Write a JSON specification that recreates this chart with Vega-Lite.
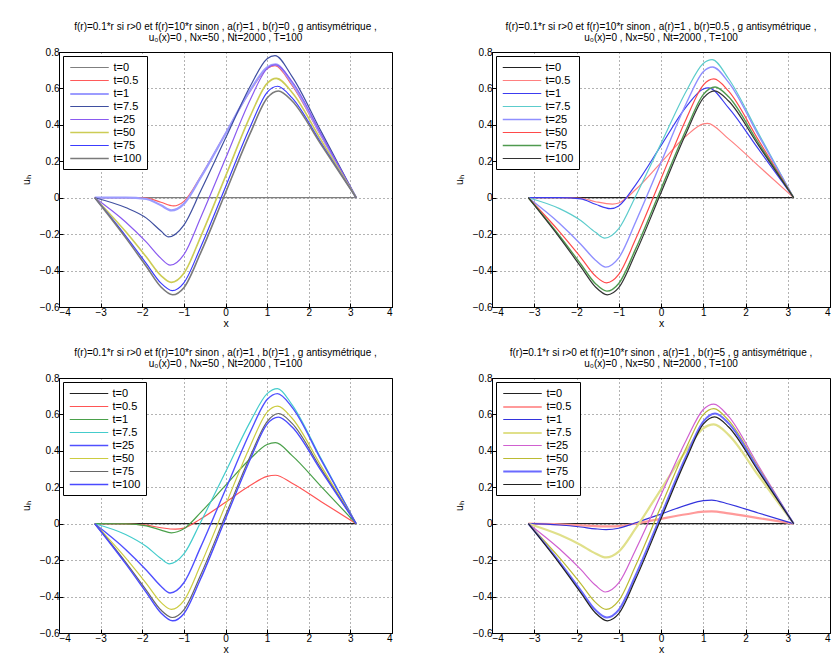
{
"$schema": "https://vega.github.io/schema/vega-lite/v6.json",
"background": "white",
"padding": {"left": 20, "top": 21, "right": 0, "bottom": 0},
"config": {
  "font": "Liberation Sans",
  "view": {"stroke": "#000000", "strokeWidth": 1},
  "axis": {"labelFontSize": 10, "labelColor": "#000000", "titleFontSize": 10.5, "titleFontWeight": "normal", "titleColor": "#000000", "domainColor": "#000000", "tickColor": "#000000", "tickSize": -4, "labelPadding": 4, "grid": true, "gridColor": "#000000", "gridDash": [1, 3], "gridOpacity": 0.6},
  "title": {"fontSize": 10, "fontWeight": "normal", "lineHeight": 11, "offset": 4, "anchor": "middle", "frame": "group", "color": "#000000"},
  "legend": {"title": null, "orient": "top-left", "offset": 4, "fillColor": "white", "strokeColor": "#000000", "padding": 5, "symbolType": "M-3.5,0H3.5", "symbolSize": 121, "symbolOffset": 14.5, "labelOffset": 17, "labelFontSize": 11, "labelColor": "#000000", "rowPadding": 1}
},
"datasets": {
"p1": [
{"t":"t=0","x":-3.14,"y":0},{"t":"t=0","x":3.14,"y":0},
{"t":"t=0.5","x":-3.14,"y":0},{"t":"t=0.5","x":-2.4,"y":0},{"t":"t=0.5","x":-1.9,"y":-0.002},{"t":"t=0.5","x":-1.55,"y":-0.025},{"t":"t=0.5","x":-1.25,"y":-0.045},{"t":"t=0.5","x":-1.0,"y":-0.02},{"t":"t=0.5","x":-0.6,"y":0.115},{"t":"t=0.5","x":0,"y":0.352},{"t":"t=0.5","x":0.6,"y":0.588},{"t":"t=0.5","x":1.0,"y":0.71},{"t":"t=0.5","x":1.19,"y":0.725},{"t":"t=0.5","x":1.6,"y":0.616},{"t":"t=0.5","x":2.3,"y":0.336},{"t":"t=0.5","x":3.14,"y":0},
{"t":"t=1","x":-3.14,"y":0},{"t":"t=1","x":-2.4,"y":0},{"t":"t=1","x":-1.9,"y":-0.007},{"t":"t=1","x":-1.55,"y":-0.042},{"t":"t=1","x":-1.3,"y":-0.07},{"t":"t=1","x":-1.0,"y":-0.034},{"t":"t=1","x":-0.6,"y":0.11},{"t":"t=1","x":0,"y":0.351},{"t":"t=1","x":0.6,"y":0.592},{"t":"t=1","x":1.0,"y":0.716},{"t":"t=1","x":1.2,"y":0.732},{"t":"t=1","x":1.6,"y":0.628},{"t":"t=1","x":2.3,"y":0.343},{"t":"t=1","x":3.14,"y":0},
{"t":"t=7.5","x":-3.14,"y":0},{"t":"t=7.5","x":-2.4,"y":-0.054},{"t":"t=7.5","x":-1.9,"y":-0.112},{"t":"t=7.5","x":-1.55,"y":-0.183},{"t":"t=7.5","x":-1.37,"y":-0.215},{"t":"t=7.5","x":-1.0,"y":-0.15},{"t":"t=7.5","x":-0.6,"y":0.035},{"t":"t=7.5","x":0,"y":0.326},{"t":"t=7.5","x":0.6,"y":0.615},{"t":"t=7.5","x":1.0,"y":0.763},{"t":"t=7.5","x":1.19,"y":0.78},{"t":"t=7.5","x":1.6,"y":0.665},{"t":"t=7.5","x":2.3,"y":0.363},{"t":"t=7.5","x":3.14,"y":0},
{"t":"t=25","x":-3.14,"y":0},{"t":"t=25","x":-2.4,"y":-0.133},{"t":"t=25","x":-1.9,"y":-0.244},{"t":"t=25","x":-1.55,"y":-0.333},{"t":"t=25","x":-1.33,"y":-0.37},{"t":"t=25","x":-1.0,"y":-0.312},{"t":"t=25","x":-0.6,"y":-0.111},{"t":"t=25","x":0,"y":0.215},{"t":"t=25","x":0.6,"y":0.541},{"t":"t=25","x":1.0,"y":0.709},{"t":"t=25","x":1.2,"y":0.73},{"t":"t=25","x":1.6,"y":0.638},{"t":"t=25","x":2.3,"y":0.348},{"t":"t=25","x":3.14,"y":0},
{"t":"t=50","x":-3.14,"y":0},{"t":"t=50","x":-2.4,"y":-0.186},{"t":"t=50","x":-1.9,"y":-0.326},{"t":"t=50","x":-1.55,"y":-0.428},{"t":"t=50","x":-1.3,"y":-0.465},{"t":"t=50","x":-1.0,"y":-0.415},{"t":"t=50","x":-0.6,"y":-0.216},{"t":"t=50","x":0,"y":0.117},{"t":"t=50","x":0.6,"y":0.451},{"t":"t=50","x":1.0,"y":0.628},{"t":"t=50","x":1.22,"y":0.655},{"t":"t=50","x":1.6,"y":0.578},{"t":"t=50","x":2.3,"y":0.315},{"t":"t=50","x":3.14,"y":0},
{"t":"t=75","x":-3.14,"y":0},{"t":"t=75","x":-2.4,"y":-0.209},{"t":"t=75","x":-1.9,"y":-0.362},{"t":"t=75","x":-1.55,"y":-0.469},{"t":"t=75","x":-1.28,"y":-0.51},{"t":"t=75","x":-1.0,"y":-0.467},{"t":"t=75","x":-0.6,"y":-0.273},{"t":"t=75","x":0,"y":0.059},{"t":"t=75","x":0.6,"y":0.392},{"t":"t=75","x":1.0,"y":0.578},{"t":"t=75","x":1.25,"y":0.612},{"t":"t=75","x":1.6,"y":0.548},{"t":"t=75","x":2.3,"y":0.299},{"t":"t=75","x":3.14,"y":0},
{"t":"t=100","x":-3.14,"y":0},{"t":"t=100","x":-2.4,"y":-0.219},{"t":"t=100","x":-1.9,"y":-0.378},{"t":"t=100","x":-1.55,"y":-0.49},{"t":"t=100","x":-1.27,"y":-0.533},{"t":"t=100","x":-1.0,"y":-0.494},{"t":"t=100","x":-0.6,"y":-0.304},{"t":"t=100","x":0,"y":0.027},{"t":"t=100","x":0.6,"y":0.357},{"t":"t=100","x":1.0,"y":0.547},{"t":"t=100","x":1.27,"y":0.586},{"t":"t=100","x":1.6,"y":0.531},{"t":"t=100","x":2.3,"y":0.29},{"t":"t=100","x":3.14,"y":0}
],
"p2": [
{"t":"t=0","x":-3.14,"y":0},{"t":"t=0","x":3.14,"y":0},
{"t":"t=0.5","x":-3.14,"y":0},{"t":"t=0.5","x":-2.4,"y":0},{"t":"t=0.5","x":-1.9,"y":-0.003},{"t":"t=0.5","x":-1.55,"y":-0.022},{"t":"t=0.5","x":-1.15,"y":-0.035},{"t":"t=0.5","x":-1.0,"y":-0.029},{"t":"t=0.5","x":-0.6,"y":0.045},{"t":"t=0.5","x":0,"y":0.193},{"t":"t=0.5","x":0.6,"y":0.34},{"t":"t=0.5","x":1.0,"y":0.405},{"t":"t=0.5","x":1.1,"y":0.408},{"t":"t=0.5","x":1.6,"y":0.323},{"t":"t=0.5","x":2.3,"y":0.176},{"t":"t=0.5","x":3.14,"y":0},
{"t":"t=1","x":-3.14,"y":0},{"t":"t=1","x":-2.4,"y":0},{"t":"t=1","x":-1.9,"y":-0.006},{"t":"t=1","x":-1.55,"y":-0.036},{"t":"t=1","x":-1.2,"y":-0.06},{"t":"t=1","x":-1.0,"y":-0.045},{"t":"t=1","x":-0.6,"y":0.071},{"t":"t=1","x":0,"y":0.286},{"t":"t=1","x":0.6,"y":0.5},{"t":"t=1","x":1.0,"y":0.597},{"t":"t=1","x":1.12,"y":0.603},{"t":"t=1","x":1.6,"y":0.493},{"t":"t=1","x":2.3,"y":0.269},{"t":"t=1","x":3.14,"y":0},
{"t":"t=7.5","x":-3.14,"y":0},{"t":"t=7.5","x":-2.4,"y":-0.06},{"t":"t=7.5","x":-1.9,"y":-0.125},{"t":"t=7.5","x":-1.55,"y":-0.19},{"t":"t=7.5","x":-1.33,"y":-0.222},{"t":"t=7.5","x":-1.0,"y":-0.17},{"t":"t=7.5","x":-0.6,"y":0.008},{"t":"t=7.5","x":0,"y":0.297},{"t":"t=7.5","x":0.6,"y":0.586},{"t":"t=7.5","x":1.0,"y":0.737},{"t":"t=7.5","x":1.21,"y":0.758},{"t":"t=7.5","x":1.6,"y":0.653},{"t":"t=7.5","x":2.3,"y":0.356},{"t":"t=7.5","x":3.14,"y":0},
{"t":"t=25","x":-3.14,"y":0},{"t":"t=25","x":-2.4,"y":-0.141},{"t":"t=25","x":-1.9,"y":-0.255},{"t":"t=25","x":-1.55,"y":-0.343},{"t":"t=25","x":-1.31,"y":-0.381},{"t":"t=25","x":-1.0,"y":-0.33},{"t":"t=25","x":-0.6,"y":-0.133},{"t":"t=25","x":0,"y":0.193},{"t":"t=25","x":0.6,"y":0.519},{"t":"t=25","x":1.0,"y":0.692},{"t":"t=25","x":1.22,"y":0.718},{"t":"t=25","x":1.6,"y":0.633},{"t":"t=25","x":2.3,"y":0.345},{"t":"t=25","x":3.14,"y":0},
{"t":"t=50","x":-3.14,"y":0},{"t":"t=50","x":-2.4,"y":-0.187},{"t":"t=50","x":-1.9,"y":-0.327},{"t":"t=50","x":-1.55,"y":-0.43},{"t":"t=50","x":-1.29,"y":-0.467},{"t":"t=50","x":-1.0,"y":-0.421},{"t":"t=50","x":-0.6,"y":-0.227},{"t":"t=50","x":0,"y":0.104},{"t":"t=50","x":0.6,"y":0.434},{"t":"t=50","x":1.0,"y":0.618},{"t":"t=50","x":1.25,"y":0.652},{"t":"t=50","x":1.6,"y":0.585},{"t":"t=50","x":2.3,"y":0.319},{"t":"t=50","x":3.14,"y":0},
{"t":"t=75","x":-3.14,"y":0},{"t":"t=75","x":-2.4,"y":-0.21},{"t":"t=75","x":-1.9,"y":-0.364},{"t":"t=75","x":-1.55,"y":-0.472},{"t":"t=75","x":-1.28,"y":-0.513},{"t":"t=75","x":-1.0,"y":-0.471},{"t":"t=75","x":-0.6,"y":-0.281},{"t":"t=75","x":0,"y":0.048},{"t":"t=75","x":0.6,"y":0.376},{"t":"t=75","x":1.0,"y":0.566},{"t":"t=75","x":1.28,"y":0.608},{"t":"t=75","x":1.6,"y":0.554},{"t":"t=75","x":2.3,"y":0.302},{"t":"t=75","x":3.14,"y":0},
{"t":"t=100","x":-3.14,"y":0},{"t":"t=100","x":-2.4,"y":-0.219},{"t":"t=100","x":-1.9,"y":-0.378},{"t":"t=100","x":-1.55,"y":-0.49},{"t":"t=100","x":-1.27,"y":-0.533},{"t":"t=100","x":-1.0,"y":-0.494},{"t":"t=100","x":-0.6,"y":-0.304},{"t":"t=100","x":0,"y":0.027},{"t":"t=100","x":0.6,"y":0.357},{"t":"t=100","x":1.0,"y":0.547},{"t":"t=100","x":1.27,"y":0.587},{"t":"t=100","x":1.6,"y":0.531},{"t":"t=100","x":2.3,"y":0.29},{"t":"t=100","x":3.14,"y":0}
],
"p3": [
{"t":"t=0","x":-3.14,"y":0},{"t":"t=0","x":3.14,"y":0},
{"t":"t=0.5","x":-3.14,"y":0},{"t":"t=0.5","x":-2.4,"y":-0.001},{"t":"t=0.5","x":-1.9,"y":-0.008},{"t":"t=0.5","x":-1.55,"y":-0.022},{"t":"t=0.5","x":-1.2,"y":-0.03},{"t":"t=0.5","x":-1.0,"y":-0.024},{"t":"t=0.5","x":-0.6,"y":0.026},{"t":"t=0.5","x":0,"y":0.118},{"t":"t=0.5","x":0.6,"y":0.211},{"t":"t=0.5","x":1.0,"y":0.26},{"t":"t=0.5","x":1.2,"y":0.266},{"t":"t=0.5","x":1.6,"y":0.222},{"t":"t=0.5","x":2.3,"y":0.121},{"t":"t=0.5","x":3.14,"y":0},
{"t":"t=1","x":-3.14,"y":0},{"t":"t=1","x":-2.4,"y":-0.001},{"t":"t=1","x":-1.9,"y":-0.012},{"t":"t=1","x":-1.55,"y":-0.035},{"t":"t=1","x":-1.3,"y":-0.05},{"t":"t=1","x":-1.0,"y":-0.028},{"t":"t=1","x":-0.6,"y":0.061},{"t":"t=1","x":0,"y":0.21},{"t":"t=1","x":0.6,"y":0.358},{"t":"t=1","x":1.0,"y":0.435},{"t":"t=1","x":1.2,"y":0.445},{"t":"t=1","x":1.6,"y":0.374},{"t":"t=1","x":2.3,"y":0.204},{"t":"t=1","x":3.14,"y":0},
{"t":"t=7.5","x":-3.14,"y":0},{"t":"t=7.5","x":-2.4,"y":-0.059},{"t":"t=7.5","x":-1.9,"y":-0.125},{"t":"t=7.5","x":-1.55,"y":-0.191},{"t":"t=7.5","x":-1.35,"y":-0.22},{"t":"t=7.5","x":-1.0,"y":-0.166},{"t":"t=7.5","x":-0.6,"y":0.007},{"t":"t=7.5","x":0,"y":0.284},{"t":"t=7.5","x":0.6,"y":0.562},{"t":"t=7.5","x":1.0,"y":0.714},{"t":"t=7.5","x":1.25,"y":0.742},{"t":"t=7.5","x":1.6,"y":0.653},{"t":"t=7.5","x":2.3,"y":0.356},{"t":"t=7.5","x":3.14,"y":0},
{"t":"t=25","x":-3.14,"y":0},{"t":"t=25","x":-2.4,"y":-0.141},{"t":"t=25","x":-1.9,"y":-0.255},{"t":"t=25","x":-1.55,"y":-0.343},{"t":"t=25","x":-1.33,"y":-0.38},{"t":"t=25","x":-1.0,"y":-0.324},{"t":"t=25","x":-0.6,"y":-0.13},{"t":"t=25","x":0,"y":0.188},{"t":"t=25","x":0.6,"y":0.506},{"t":"t=25","x":1.0,"y":0.682},{"t":"t=25","x":1.25,"y":0.714},{"t":"t=25","x":1.6,"y":0.639},{"t":"t=25","x":2.3,"y":0.349},{"t":"t=25","x":3.14,"y":0},
{"t":"t=50","x":-3.14,"y":0},{"t":"t=50","x":-2.4,"y":-0.188},{"t":"t=50","x":-1.9,"y":-0.329},{"t":"t=50","x":-1.55,"y":-0.432},{"t":"t=50","x":-1.3,"y":-0.47},{"t":"t=50","x":-1.0,"y":-0.422},{"t":"t=50","x":-0.6,"y":-0.227},{"t":"t=50","x":0,"y":0.102},{"t":"t=50","x":0.6,"y":0.43},{"t":"t=50","x":1.0,"y":0.613},{"t":"t=50","x":1.25,"y":0.646},{"t":"t=50","x":1.6,"y":0.579},{"t":"t=50","x":2.3,"y":0.316},{"t":"t=50","x":3.14,"y":0},
{"t":"t=75","x":-3.14,"y":0},{"t":"t=75","x":-2.4,"y":-0.211},{"t":"t=75","x":-1.9,"y":-0.366},{"t":"t=75","x":-1.55,"y":-0.474},{"t":"t=75","x":-1.28,"y":-0.515},{"t":"t=75","x":-1.0,"y":-0.473},{"t":"t=75","x":-0.6,"y":-0.283},{"t":"t=75","x":0,"y":0.046},{"t":"t=75","x":0.6,"y":0.373},{"t":"t=75","x":1.0,"y":0.561},{"t":"t=75","x":1.28,"y":0.605},{"t":"t=75","x":1.6,"y":0.551},{"t":"t=75","x":2.3,"y":0.3},{"t":"t=75","x":3.14,"y":0},
{"t":"t=100","x":-3.14,"y":0},{"t":"t=100","x":-2.4,"y":-0.219},{"t":"t=100","x":-1.9,"y":-0.378},{"t":"t=100","x":-1.55,"y":-0.49},{"t":"t=100","x":-1.27,"y":-0.533},{"t":"t=100","x":-1.0,"y":-0.494},{"t":"t=100","x":-0.6,"y":-0.304},{"t":"t=100","x":0,"y":0.027},{"t":"t=100","x":0.6,"y":0.357},{"t":"t=100","x":1.0,"y":0.547},{"t":"t=100","x":1.27,"y":0.585},{"t":"t=100","x":1.6,"y":0.531},{"t":"t=100","x":2.3,"y":0.29},{"t":"t=100","x":3.14,"y":0}
],
"p4": [
{"t":"t=0","x":-3.14,"y":0},{"t":"t=0","x":3.14,"y":0},
{"t":"t=0.5","x":-3.14,"y":0},{"t":"t=0.5","x":-2.4,"y":-0.004},{"t":"t=0.5","x":-1.9,"y":-0.009},{"t":"t=0.5","x":-1.55,"y":-0.013},{"t":"t=0.5","x":-1.2,"y":-0.015},{"t":"t=0.5","x":-1.0,"y":-0.013},{"t":"t=0.5","x":-0.6,"y":0.001},{"t":"t=0.5","x":0,"y":0.027},{"t":"t=0.5","x":0.6,"y":0.052},{"t":"t=0.5","x":1.0,"y":0.066},{"t":"t=0.5","x":1.2,"y":0.068},{"t":"t=0.5","x":1.6,"y":0.057},{"t":"t=0.5","x":2.3,"y":0.031},{"t":"t=0.5","x":3.14,"y":0},
{"t":"t=1","x":-3.14,"y":0},{"t":"t=1","x":-2.4,"y":-0.007},{"t":"t=1","x":-1.9,"y":-0.018},{"t":"t=1","x":-1.55,"y":-0.028},{"t":"t=1","x":-1.3,"y":-0.032},{"t":"t=1","x":-1.0,"y":-0.025},{"t":"t=1","x":-0.6,"y":0.005},{"t":"t=1","x":0,"y":0.053},{"t":"t=1","x":0.6,"y":0.102},{"t":"t=1","x":1.0,"y":0.127},{"t":"t=1","x":1.2,"y":0.13},{"t":"t=1","x":1.6,"y":0.108},{"t":"t=1","x":2.3,"y":0.059},{"t":"t=1","x":3.14,"y":0},
{"t":"t=7.5","x":-3.14,"y":0},{"t":"t=7.5","x":-2.4,"y":-0.061},{"t":"t=7.5","x":-1.9,"y":-0.117},{"t":"t=7.5","x":-1.55,"y":-0.163},{"t":"t=7.5","x":-1.3,"y":-0.185},{"t":"t=7.5","x":-1.0,"y":-0.153},{"t":"t=7.5","x":-0.6,"y":-0.026},{"t":"t=7.5","x":0,"y":0.189},{"t":"t=7.5","x":0.6,"y":0.403},{"t":"t=7.5","x":1.0,"y":0.523},{"t":"t=7.5","x":1.25,"y":0.545},{"t":"t=7.5","x":1.6,"y":0.488},{"t":"t=7.5","x":2.3,"y":0.266},{"t":"t=7.5","x":3.14,"y":0},
{"t":"t=25","x":-3.14,"y":0},{"t":"t=25","x":-2.4,"y":-0.139},{"t":"t=25","x":-1.9,"y":-0.251},{"t":"t=25","x":-1.55,"y":-0.338},{"t":"t=25","x":-1.32,"y":-0.375},{"t":"t=25","x":-1.0,"y":-0.325},{"t":"t=25","x":-0.6,"y":-0.143},{"t":"t=25","x":0,"y":0.159},{"t":"t=25","x":0.6,"y":0.46},{"t":"t=25","x":1.0,"y":0.627},{"t":"t=25","x":1.25,"y":0.657},{"t":"t=25","x":1.6,"y":0.589},{"t":"t=25","x":2.3,"y":0.321},{"t":"t=25","x":3.14,"y":0},
{"t":"t=50","x":-3.14,"y":0},{"t":"t=50","x":-2.4,"y":-0.188},{"t":"t=50","x":-1.9,"y":-0.329},{"t":"t=50","x":-1.55,"y":-0.432},{"t":"t=50","x":-1.3,"y":-0.47},{"t":"t=50","x":-1.0,"y":-0.422},{"t":"t=50","x":-0.6,"y":-0.23},{"t":"t=50","x":0,"y":0.095},{"t":"t=50","x":0.6,"y":0.418},{"t":"t=50","x":1.0,"y":0.599},{"t":"t=50","x":1.25,"y":0.632},{"t":"t=50","x":1.6,"y":0.567},{"t":"t=50","x":2.3,"y":0.309},{"t":"t=50","x":3.14,"y":0},
{"t":"t=75","x":-3.14,"y":0},{"t":"t=75","x":-2.4,"y":-0.211},{"t":"t=75","x":-1.9,"y":-0.366},{"t":"t=75","x":-1.55,"y":-0.474},{"t":"t=75","x":-1.28,"y":-0.515},{"t":"t=75","x":-1.0,"y":-0.473},{"t":"t=75","x":-0.6,"y":-0.283},{"t":"t=75","x":0,"y":0.046},{"t":"t=75","x":0.6,"y":0.373},{"t":"t=75","x":1.0,"y":0.561},{"t":"t=75","x":1.28,"y":0.605},{"t":"t=75","x":1.6,"y":0.551},{"t":"t=75","x":2.3,"y":0.3},{"t":"t=75","x":3.14,"y":0},
{"t":"t=100","x":-3.14,"y":0},{"t":"t=100","x":-2.4,"y":-0.219},{"t":"t=100","x":-1.9,"y":-0.378},{"t":"t=100","x":-1.55,"y":-0.49},{"t":"t=100","x":-1.27,"y":-0.533},{"t":"t=100","x":-1.0,"y":-0.494},{"t":"t=100","x":-0.6,"y":-0.304},{"t":"t=100","x":0,"y":0.027},{"t":"t=100","x":0.6,"y":0.357},{"t":"t=100","x":1.0,"y":0.547},{"t":"t=100","x":1.27,"y":0.587},{"t":"t=100","x":1.6,"y":0.531},{"t":"t=100","x":2.3,"y":0.29},{"t":"t=100","x":3.14,"y":0}
]
},
"columns": 2,
"spacing": {"row": 71, "column": 100},
"bounds": "flush",
"resolve": {"scale": {"color": "independent", "strokeWidth": "independent"}, "legend": {"color": "independent", "strokeWidth": "independent"}},
"concat": [
{
  "width": 333, "height": 255,
  "title": {"text": ["f(r)=0.1*r si r>0 et f(r)=10*r sinon , a(r)=1 , b(r)=0 , g antisymétrique ,", "u₀(x)=0 , Nx=50 , Nt=2000 , T=100"]},
  "data": {"name": "p1"},
  "mark": {"type": "line", "interpolate": "monotone"},
  "encoding": {
    "x": {"field": "x", "type": "quantitative", "scale": {"domain": [-4, 4], "nice": false}, "axis": {"values": [-4,-3,-2,-1,0,1,2,3,4], "format": "~g", "title": "x", "titlePadding": 1}},
    "y": {"field": "y", "type": "quantitative", "scale": {"domain": [-0.6, 0.8], "nice": false}, "axis": {"values": [-0.6,-0.4,-0.2,0,0.2,0.4,0.6,0.8], "format": "~g", "title": "uₕ", "titlePadding": 8}},
    "color": {"field": "t", "type": "nominal", "scale": {"type": "ordinal", "domain": ["t=0","t=0.5","t=1","t=7.5","t=25","t=50","t=75","t=100"], "range": ["#7f7f7f","#ff5a5a","#9c9cff","#3f4fa0","#8a5af0","#cccc55","#3c3cff","#7a7a7a"]}},
    "strokeWidth": {"field": "t", "type": "nominal", "scale": {"type": "ordinal", "domain": ["t=0","t=0.5","t=1","t=7.5","t=25","t=50","t=75","t=100"], "range": [1.2,1.2,2.2,1.2,1.2,1.6,1.2,1.6]}}
  }
},
{
  "width": 338, "height": 255,
  "title": {"text": ["f(r)=0.1*r si r>0 et f(r)=10*r sinon , a(r)=1 , b(r)=0.5 , g antisymétrique ,", "u₀(x)=0 , Nx=50 , Nt=2000 , T=100"]},
  "data": {"name": "p2"},
  "mark": {"type": "line", "interpolate": "monotone"},
  "encoding": {
    "x": {"field": "x", "type": "quantitative", "scale": {"domain": [-4, 4], "nice": false}, "axis": {"values": [-4,-3,-2,-1,0,1,2,3,4], "format": "~g", "title": "x", "titlePadding": 1}},
    "y": {"field": "y", "type": "quantitative", "scale": {"domain": [-0.6, 0.8], "nice": false}, "axis": {"values": [-0.6,-0.4,-0.2,0,0.2,0.4,0.6,0.8], "format": "~g", "title": "uₕ", "titlePadding": 8}},
    "color": {"field": "t", "type": "nominal", "scale": {"type": "ordinal", "domain": ["t=0","t=0.5","t=1","t=7.5","t=25","t=50","t=75","t=100"], "range": ["#222222","#ff8080","#3c3cf0","#5ccccc","#8f8fff","#ff4a4a","#4f9a4f","#333333"]}},
    "strokeWidth": {"field": "t", "type": "nominal", "scale": {"type": "ordinal", "domain": ["t=0","t=0.5","t=1","t=7.5","t=25","t=50","t=75","t=100"], "range": [1.2,1.2,1.2,1.2,1.4,1.2,1.4,1.2]}}
  }
},
{
  "width": 333, "height": 255,
  "title": {"text": ["f(r)=0.1*r si r>0 et f(r)=10*r sinon , a(r)=1 , b(r)=1 , g antisymétrique ,", "u₀(x)=0 , Nx=50 , Nt=2000 , T=100"]},
  "data": {"name": "p3"},
  "mark": {"type": "line", "interpolate": "monotone"},
  "encoding": {
    "x": {"field": "x", "type": "quantitative", "scale": {"domain": [-4, 4], "nice": false}, "axis": {"values": [-4,-3,-2,-1,0,1,2,3,4], "format": "~g", "title": "x", "titlePadding": 1}},
    "y": {"field": "y", "type": "quantitative", "scale": {"domain": [-0.6, 0.8], "nice": false}, "axis": {"values": [-0.6,-0.4,-0.2,0,0.2,0.4,0.6,0.8], "format": "~g", "title": "uₕ", "titlePadding": 8}},
    "color": {"field": "t", "type": "nominal", "scale": {"type": "ordinal", "domain": ["t=0","t=0.5","t=1","t=7.5","t=25","t=50","t=75","t=100"], "range": ["#222222","#ff5555","#4aa04a","#44cccc","#5050ff","#cccc40","#666666","#4a4aff"]}},
    "strokeWidth": {"field": "t", "type": "nominal", "scale": {"type": "ordinal", "domain": ["t=0","t=0.5","t=1","t=7.5","t=25","t=50","t=75","t=100"], "range": [1.2,1.2,1.2,1.2,1.4,1.2,1.2,1.4]}}
  }
},
{
  "width": 338, "height": 255,
  "title": {"text": ["f(r)=0.1*r si r>0 et f(r)=10*r sinon , a(r)=1 , b(r)=5 , g antisymétrique ,", "u₀(x)=0 , Nx=50 , Nt=2000 , T=100"]},
  "data": {"name": "p4"},
  "mark": {"type": "line", "interpolate": "monotone"},
  "encoding": {
    "x": {"field": "x", "type": "quantitative", "scale": {"domain": [-4, 4], "nice": false}, "axis": {"values": [-4,-3,-2,-1,0,1,2,3,4], "format": "~g", "title": "x", "titlePadding": 1}},
    "y": {"field": "y", "type": "quantitative", "scale": {"domain": [-0.6, 0.8], "nice": false}, "axis": {"values": [-0.6,-0.4,-0.2,0,0.2,0.4,0.6,0.8], "format": "~g", "title": "uₕ", "titlePadding": 8}},
    "color": {"field": "t", "type": "nominal", "scale": {"type": "ordinal", "domain": ["t=0","t=0.5","t=1","t=7.5","t=25","t=50","t=75","t=100"], "range": ["#222222","#ff9a9a","#3333dd","#e0e08a","#d060d0","#bbbb33","#6a6aff","#222222"]}},
    "strokeWidth": {"field": "t", "type": "nominal", "scale": {"type": "ordinal", "domain": ["t=0","t=0.5","t=1","t=7.5","t=25","t=50","t=75","t=100"], "range": [1.2,2.2,1.2,2.2,1.2,1.2,2,1.2]}}
  }
}
]
}
